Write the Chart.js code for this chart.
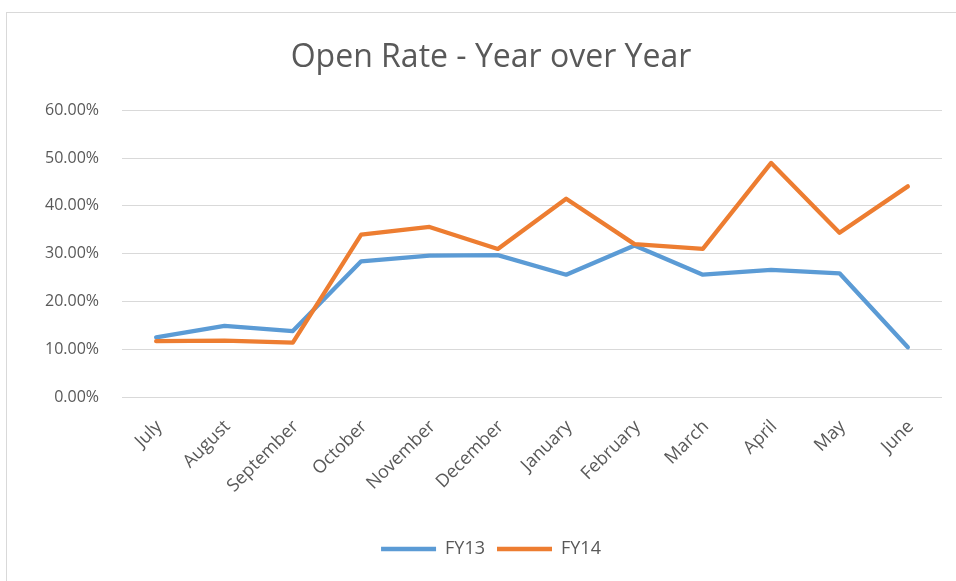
<!DOCTYPE html>
<html>
<head>
<meta charset="utf-8">
<script src="https://cdn.jsdelivr.net/npm/chart.js@4/dist/chart.umd.min.js"></script>
<style>
  html, body { margin: 0; padding: 0; background: #fff; }
  #wrap { position: relative; width: 956px; height: 581px; overflow: hidden; }
  #frame { position: absolute; left: 6px; top: 12px; width: 1000px; height: 640px; border: 1px solid #d9d9d9; box-sizing: border-box; }
  #c { position: absolute; left: 0; top: 0; }
</style>
</head>
<body>
<div id="wrap">
  <div id="frame"></div>
  <canvas id="c" width="956" height="581"></canvas>
</div>
<script>
const titleText = 'Open Rate - Year over Year';
const months = ['July', 'August', 'September', 'October', 'November', 'December', 'January', 'February', 'March', 'April', 'May', 'June'];
const fy13 = [12.5, 14.9, 13.8, 28.4, 29.6, 29.7, 25.6, 31.7, 25.6, 26.6, 25.9, 10.4];
const fy14 = [11.7, 11.8, 11.4, 34.0, 35.6, 31.0, 41.5, 32.0, 31.0, 49.0, 34.4, 44.1];
const yTicks = [0, 10, 20, 30, 40, 50, 60];

const FONT = '"Open Sans", Lato, sans-serif';
const GREY = '#595959';

new Chart(document.getElementById('c'), {
  type: 'line',
  data: {
    labels: months,
    datasets: [
      { label: 'FY13', data: fy13, borderColor: '#5B9BD5', backgroundColor: '#5B9BD5', borderWidth: 4.3, pointRadius: 0, tension: 0, borderCapStyle: 'round', borderJoinStyle: 'round', order: 1 },
      { label: 'FY14', data: fy14, borderColor: '#ED7D31', backgroundColor: '#ED7D31', borderWidth: 4.3, pointRadius: 0, tension: 0, borderCapStyle: 'round', borderJoinStyle: 'round', order: 0 }
    ]
  },
  options: {
    responsive: false,
    animation: false,
    events: [],
    layout: { padding: { left: 40, right: 14, top: 0, bottom: 13 } },
    plugins: {
      title: {
        display: true, text: titleText, color: GREY,
        font: { family: FONT, size: 32, weight: 'normal' },
        padding: { top: 39, bottom: 33 }
      },
      legend: {
        position: 'bottom',
        labels: {
          color: GREY, font: { family: FONT, size: 18 },
          usePointStyle: true, pointStyle: 'line', pointStyleWidth: 55, padding: 12,
          sort: (a, b) => a.datasetIndex - b.datasetIndex
        }
      },
      tooltip: { enabled: false }
    },
    scales: {
      x: {
        offset: true,
        grid: { display: false, drawTicks: false },
        border: { display: false },
        ticks: { color: GREY, font: { family: FONT, size: 18 }, minRotation: 45, maxRotation: 45, autoSkip: false, padding: 19, labelOffset: 3 },
        afterFit: (s) => { s.height = 131; }
      },
      y: {
        min: 0, max: 60,
        afterBuildTicks: (s) => { s.ticks = yTicks.map(v => ({ value: v })); },
        grid: { color: '#d9d9d9', lineWidth: 1, drawTicks: false },
        border: { display: false },
        ticks: { color: GREY, font: { family: FONT, size: 16 }, padding: 23, callback: (v) => Number(v).toFixed(2) + '%' },
        afterFit: (s) => { s.width = 82; }
      }
    }
  }
});
</script>
</body>
</html>
